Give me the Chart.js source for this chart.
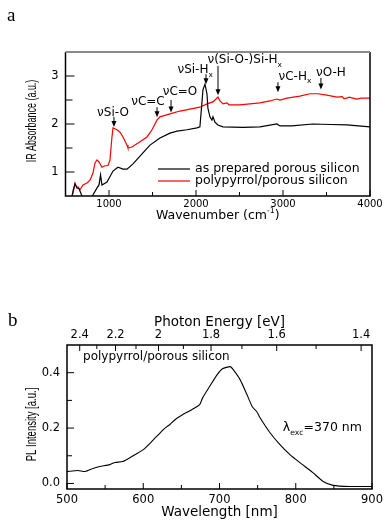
<!DOCTYPE html>
<html><head><meta charset="utf-8">
<script src="https://cdn.jsdelivr.net/npm/chart.js@4.4.0/dist/chart.umd.min.js"></script>
<style>
html,body{margin:0;padding:0;background:#fff;width:387px;height:520px;overflow:hidden}
#wa{position:absolute;left:0;top:0;width:387px;height:240px}
#wb{position:absolute;left:0;top:290px;width:387px;height:230px}
</style></head><body>
<div id="wa"><canvas id="ca"></canvas></div>
<div id="wb"><canvas id="cb"></canvas></div>
<script>
// ---------- Chart a : IR absorbance ----------
const seriesA = ["as prepared porous silicon", "polypyrrol/porous silicon"];
const wnBlack = [570,590,609,632,655,690,740,790,816,862,885,903,919,977,1046,1103,1161,1207,1276,1390,1471,1586,1701,1782,1896,2011,2045,2068,2080,2103,2126,2137,2160,2183,2195,2218,2252,2310,2540,2735,2930,2965,3100,3344,3550,3734,4000];
const absBlack = [0.45,0.63,0.75,0.67,0.65,0.50,0.35,0.40,0.52,0.67,0.73,0.94,0.73,0.79,1.02,1.10,1.06,1.06,1.17,1.40,1.56,1.71,1.81,1.85,1.88,1.92,1.94,2.44,2.71,2.83,2.63,2.33,2.15,2.08,2.15,2.04,1.98,1.94,1.93,1.94,2.00,1.96,1.96,2.00,1.99,1.98,1.94];
const wnRed = [570,586,609,632,644,667,701,747,782,816,839,862,885,919,954,988,1011,1034,1046,1092,1126,1161,1207,1218,1264,1356,1437,1494,1551,1586,1701,1816,1930,2045,2126,2195,2230,2252,2275,2310,2356,2379,2505,2735,2850,2930,2965,3045,3194,3309,3401,3505,3620,3680,3700,3734,3760,3849,3900,4000];
const absRed = [0.45,0.56,0.77,0.67,0.69,0.63,0.73,0.77,0.83,0.98,1.19,1.25,1.21,1.10,1.13,1.13,1.25,1.73,1.92,1.88,1.83,1.73,1.56,1.50,1.52,1.63,1.73,1.88,2.08,2.15,2.21,2.27,2.31,2.35,2.42,2.46,2.52,2.56,2.48,2.42,2.44,2.40,2.40,2.44,2.48,2.52,2.50,2.54,2.58,2.63,2.63,2.60,2.56,2.57,2.53,2.54,2.56,2.52,2.54,2.54];
const aXTicks = [1000,2000,3000,4000];
const aXMinor = [1500,2500,3500];
const aYTicks = [1,2,3];
const aYMinor = [1.5,2.5];

// ---------- Chart b : PL ----------
const plWavelength = [500,514,524,534,543,556,563,573,585,600,611,625,631,635,642,652,664,674,678,687,697,704,714,718,727,736,743,749,753,766,779,792,805,822,836,849,871,900];
const plIntensity  = [0.043,0.047,0.043,0.054,0.061,0.068,0.076,0.079,0.097,0.122,0.151,0.191,0.205,0.213,0.231,0.249,0.267,0.285,0.310,0.350,0.393,0.414,0.422,0.411,0.375,0.321,0.277,0.259,0.238,0.184,0.141,0.105,0.076,0.040,0.007,-0.007,-0.011,-0.011];
const bXTicks = [500,600,700,800,900];
const bXMinor = [550,650,750,850];
const bYTicks = [0.0,0.2,0.4];
const bYMinor = [0.1,0.3];
const energyTicks = [2.4,2.2,2.0,1.8,1.6,1.4];
const energyMinor = [2.3,2.1,1.9,1.7,1.5];
const HC = 1240; // eV·nm

Chart.defaults.font.family = '"DejaVu Sans"';
Chart.defaults.color = '#000';

function drawRich(ctx, segs, x, y, size, family, align){
  const parts = segs.map(s => {
    const fs = (s.sub || s.sup) ? size * 0.62 : size;
    ctx.font = fs + 'px ' + family;
    return {s, fs, w: ctx.measureText(s.t).width};
  });
  const total = parts.reduce((a, p) => a + p.w, 0);
  let cx = align === 'center' ? x - total / 2 : (align === 'right' ? x - total : x);
  ctx.textBaseline = 'middle'; ctx.textAlign = 'left'; ctx.fillStyle = '#000';
  parts.forEach(p => {
    ctx.font = p.fs + 'px ' + family;
    const dy = p.s.sub ? size * 0.38 : (p.s.sup ? -size * 0.38 : 0);
    ctx.fillText(p.s.t, cx, y + dy);
    cx += p.w;
  });
}
function condensedV(ctx, text, x, y, size, sx){
  ctx.save(); ctx.translate(x, y); ctx.rotate(-Math.PI / 2); ctx.scale(sx, 1);
  ctx.font = size + 'px "Liberation Sans", Arial'; ctx.textAlign = 'center'; ctx.textBaseline = 'middle';
  ctx.fillStyle = '#000'; ctx.fillText(text, 0, 0); ctx.restore();
}
function vTicks(ctx, scale, vals, len, ca, side){
  vals.forEach(v => {
    const p = scale.getPixelForValue(v);
    ctx.beginPath();
    if (side === 'bottom'){ ctx.moveTo(p, ca.bottom); ctx.lineTo(p, ca.bottom - len); }
    else if (side === 'top'){ ctx.moveTo(p, ca.top); ctx.lineTo(p, ca.top + len); }
    else { ctx.moveTo(ca.left, p); ctx.lineTo(ca.left + len, p); }
    ctx.stroke();
  });
}
function arrow(ctx, x, y1, y2){
  ctx.beginPath(); ctx.moveTo(x, y1); ctx.lineTo(x, y2 - 4); ctx.lineWidth = 1; ctx.strokeStyle = '#000'; ctx.stroke();
  ctx.beginPath(); ctx.moveTo(x - 2.5, y2 - 6); ctx.lineTo(x + 2.5, y2 - 6); ctx.lineTo(x, y2); ctx.closePath(); ctx.fillStyle = '#000'; ctx.fill();
}
function fixX(h){ return s => { s.height = h; s.paddingLeft = 0; s.paddingRight = 0; }; }
function fixY(w){ return s => { s.width = w; s.paddingTop = 0; s.paddingBottom = 0; }; }
function setTicks(list){ return s => { s.ticks = list.map(v => ({value: v})); }; }

// annotations of chart a, in data coordinates (wavenumber, absorbance)
const annA = [
  {segs:[{t:'νSi-O'}], tx:1046, ty:2.23, ax:1057, a1:2.15, a2:1.94},
  {segs:[{t:'νC=C'}], tx:1448, ty:2.46, ax:1552, a1:2.35, a2:2.14},
  {segs:[{t:'νC=O'}], tx:1816, ty:2.67, ax:1713, a1:2.50, a2:2.24},
  {segs:[{t:'νSi-H'},{t:'x',sub:true}], tx:1990, ty:3.12, ax:2115, a1:3.04, a2:2.83},
  {segs:[{t:'ν(Si-O-)Si-H'},{t:'x',sub:true}], tx:2560, ty:3.33, ax:2253, a1:3.21, a2:2.60},
  {segs:[{t:'νC-H'},{t:'x',sub:true}], tx:3137, ty:2.98, ax:2942, a1:2.87, a2:2.66},
  {segs:[{t:'νO-H'}], tx:3551, ty:3.06, ax:3436, a1:2.96, a2:2.72}
];

const decoA = {
  id: 'decoA',
  afterDraw(chart){
    const ctx = chart.ctx, ca = chart.chartArea, xs = chart.scales.x, ys = chart.scales.y;
    ctx.save();
    ctx.lineWidth = 1.5; ctx.strokeStyle = '#000';
    ctx.beginPath(); ctx.moveTo(ca.left, ca.top); ctx.lineTo(ca.left, ca.bottom); ctx.lineTo(ca.right, ca.bottom); ctx.lineTo(ca.right, ca.top); ctx.stroke();
    ctx.strokeStyle = '#8a8a8a'; ctx.lineWidth = 2;
    ctx.beginPath(); ctx.moveTo(ca.left, ca.top); ctx.lineTo(ca.right, ca.top); ctx.stroke();
    ctx.strokeStyle = '#000'; ctx.lineWidth = 1;
    vTicks(ctx, xs, aXTicks, 6, ca, 'bottom'); vTicks(ctx, xs, aXMinor, 4, ca, 'bottom');
    vTicks(ctx, ys, aYTicks, 9, ca, 'left'); vTicks(ctx, ys, aYMinor, 7, ca, 'left');
    drawRich(ctx, [{t:'Wavenumber (cm'},{t:'-1',sup:true},{t:')'}], (ca.left + ca.right) / 2, 216, 12.5, '"DejaVu Sans"', 'center');
    condensedV(ctx, 'IR Absorbance (a.u.)', 32, 121, 14, 0.64);
    ctx.font = '19px "Liberation Serif", "DejaVu Serif"'; ctx.textAlign = 'left'; ctx.textBaseline = 'middle'; ctx.fillStyle = '#000';
    ctx.fillText('a', 7, 16);
    annA.forEach(a => {
      drawRich(ctx, a.segs, xs.getPixelForValue(a.tx), ys.getPixelForValue(a.ty), 12, '"DejaVu Sans"', 'center');
      arrow(ctx, xs.getPixelForValue(a.ax), ys.getPixelForValue(a.a1), ys.getPixelForValue(a.a2));
    });
    const ds = chart.data.datasets;
    [0, 1].forEach(i => {
      const y = 169 + i * 12;
      ctx.strokeStyle = ds[i].borderColor; ctx.lineWidth = 1.2;
      ctx.beginPath(); ctx.moveTo(158, y); ctx.lineTo(190, y); ctx.stroke();
      drawRich(ctx, [{t: ds[i].label}], 195, y, 12.5, '"DejaVu Sans"', 'left');
    });
    ctx.restore();
  }
};

new Chart(document.getElementById('ca'), {
  type: 'line',
  data: {
    datasets: [
      {label: seriesA[0], data: wnBlack.map((x, i) => ({x, y: absBlack[i]})), borderColor: '#000', borderWidth: 1.2, pointRadius: 0, tension: 0},
      {label: seriesA[1], data: wnRed.map((x, i) => ({x, y: absRed[i]})), borderColor: '#ff0000', borderWidth: 1.2, pointRadius: 0, tension: 0}
    ]
  },
  options: {
    responsive: true, maintainAspectRatio: false, animation: false, devicePixelRatio: 1,
    layout: {padding: {top: 52, right: 17, left: 0, bottom: 0}},
    plugins: {legend: {display: false}, tooltip: {enabled: false}},
    scales: {
      x: {type: 'linear', min: 500, max: 4000, afterBuildTicks: setTicks(aXTicks), afterFit: fixX(44),
          grid: {display: false, drawTicks: false}, border: {display: false},
          ticks: {padding: 2, font: {size: 10}, maxRotation: 0, autoSkip: false, callback: v => String(v)}},
      y: {type: 'linear', min: 0.5, max: 3.5, afterBuildTicks: setTicks(aYTicks), afterFit: fixY(65.5),
          grid: {display: false, drawTicks: false}, border: {display: false},
          ticks: {padding: 7, font: {size: 11.5}, callback: v => String(v)}}
    }
  },
  plugins: [decoA]
});

const decoB = {
  id: 'decoB',
  afterDraw(chart){
    const ctx = chart.ctx, ca = chart.chartArea, xs = chart.scales.x, ys = chart.scales.y;
    ctx.save();
    ctx.lineWidth = 1.5; ctx.strokeStyle = '#000';
    ctx.strokeRect(ca.left, ca.top, ca.right - ca.left, ca.bottom - ca.top);
    ctx.lineWidth = 1;
    vTicks(ctx, xs, bXTicks, 6, ca, 'bottom'); vTicks(ctx, xs, bXMinor, 4, ca, 'bottom');
    vTicks(ctx, ys, bYTicks, 7, ca, 'left'); vTicks(ctx, ys, bYMinor, 5, ca, 'left');
    vTicks(ctx, xs, energyTicks.map(e => HC / e), 6, ca, 'top');
    vTicks(ctx, xs, energyMinor.map(e => HC / e), 4, ca, 'top');
    drawRich(ctx, [{t:'Photon Energy [eV]'}], (ca.left + ca.right) / 2, 32, 13.5, '"DejaVu Sans"', 'center');
    drawRich(ctx, [{t:'Wavelength [nm]'}], (ca.left + ca.right) / 2, 222, 13.5, '"DejaVu Sans"', 'center');
    condensedV(ctx, 'PL Intensity [a.u.]', 32.5, 134.5, 14, 0.68);
    ctx.font = '19px "Liberation Serif", "DejaVu Serif"'; ctx.textAlign = 'left'; ctx.textBaseline = 'middle'; ctx.fillStyle = '#000';
    ctx.fillText('b', 8, 31);
    drawRich(ctx, [{t:'polypyrrol/porous silicon'}], xs.getPixelForValue(521), ys.getPixelForValue(0.458), 12, '"DejaVu Sans"', 'left');
    drawRich(ctx, [{t:'λ'},{t:'exc',sub:true},{t:'=370 nm'}], xs.getPixelForValue(783), ys.getPixelForValue(0.20), 12.5, '"DejaVu Sans"', 'left');
    ctx.restore();
  }
};

new Chart(document.getElementById('cb'), {
  type: 'line',
  data: {
    datasets: [
      {label: 'polypyrrol/porous silicon', data: plWavelength.map((x, i) => ({x, y: plIntensity[i]})), borderColor: '#000', borderWidth: 1.1, pointRadius: 0, tension: 0.2}
    ]
  },
  options: {
    responsive: true, maintainAspectRatio: false, animation: false, devicePixelRatio: 1,
    layout: {padding: {top: 0, right: 15, left: 0, bottom: 0}},
    plugins: {legend: {display: false}, tooltip: {enabled: false}},
    scales: {
      x: {type: 'linear', position: 'bottom', min: 500, max: 900, afterBuildTicks: setTicks(bXTicks), afterFit: fixX(31),
          grid: {display: false, drawTicks: false}, border: {display: false},
          ticks: {padding: 4, font: {size: 11.5}, maxRotation: 0, autoSkip: false, callback: v => String(v)}},
      x2: {type: 'linear', position: 'top', min: 500, max: 900,
          afterBuildTicks: s => { s.ticks = energyTicks.map(e => ({value: HC / e})); }, afterFit: fixX(55),
          grid: {display: false, drawTicks: false}, border: {display: false},
          ticks: {padding: 3, font: {size: 11.5}, maxRotation: 0, autoSkip: false, callback: v => String(parseFloat((HC / v).toFixed(1)))}},
      y: {type: 'linear', min: -0.02, max: 0.5, afterBuildTicks: setTicks(bYTicks), afterFit: fixY(67),
          grid: {display: false, drawTicks: false}, border: {display: false},
          ticks: {padding: 7, font: {size: 11.5}, callback: v => v.toFixed(1)}}
    }
  },
  plugins: [decoB]
});
</script>
</body></html>
